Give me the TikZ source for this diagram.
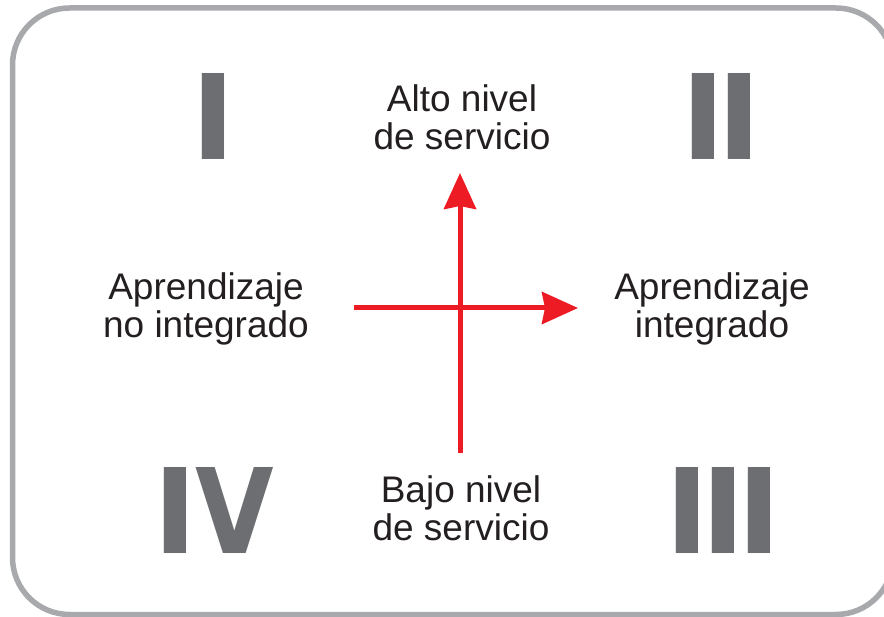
\documentclass[tikz,border=0pt]{standalone}
\usepackage{fontspec}
\usepackage{graphicx}
\setmainfont{Liberation Sans}
\newfontfamily\numfont{DejaVu Sans}[BoldFont={DejaVu Sans Bold}]
\usetikzlibrary{arrows.meta}
\definecolor{framegray}{HTML}{A7A9AC}
\definecolor{numgray}{HTML}{6D6E71}
\definecolor{axisred}{HTML}{ED1C24}
\definecolor{txtdark}{HTML}{231F20}
\tikzset{
  lbl/.style={inner sep=0pt, align=center, text=txtdark, anchor=base,
    font=\fontsize{37}{38}\selectfont},
  numeral/.style={inner sep=0pt, anchor=base, text=numgray,
    font=\numfont\bfseries\fontsize{118}{118}\selectfont},
  axis/.style={draw=axisred, line width=5pt,
    -{Stealth[length=36pt, width=32pt, inset=3pt]}},
  frame/.style={draw=framegray, line width=5.5pt, rounded corners=57pt}
}
\begin{document}
\begin{tikzpicture}[x=1pt, y=-1pt]
\useasboundingbox (0,0) rectangle (884,617);
\fill[white] (0,0) rectangle (884,617);
\draw[frame] (12.5,8) rectangle (893,614.5);
% numerals
\node[numeral] (n1) at (213,160) {I};
\node[numeral] (n2) at (721,160) {I\kern-8pt I};
\node[numeral] (n3) at (723,553) {I\kern-8pt I\kern-8pt I};
\node[numeral] (n4) at (214,553) {I\kern-2pt\scalebox{0.86}[1]{V}};
% labels (anchor = baseline of last line)
\node[lbl] (top) at (462,150) {Alto nivel\\de servicio};
\node[lbl] (bot) at (461,540) {Bajo nivel\\de servicio};
\node[lbl] (left) at (206,338) {Aprendizaje\\no integrado};
\node[lbl] (right) at (712,338) {Aprendizaje\\integrado};
% axes
\coordinate (vb) at (460,453);
\coordinate (vt) at (460,173);
\coordinate (hl) at (354,308);
\coordinate (hr) at (578,308);
\draw[axis] (vb) -- (vt);
\draw[axis] (hl) -- (hr);
\end{tikzpicture}
\end{document}
